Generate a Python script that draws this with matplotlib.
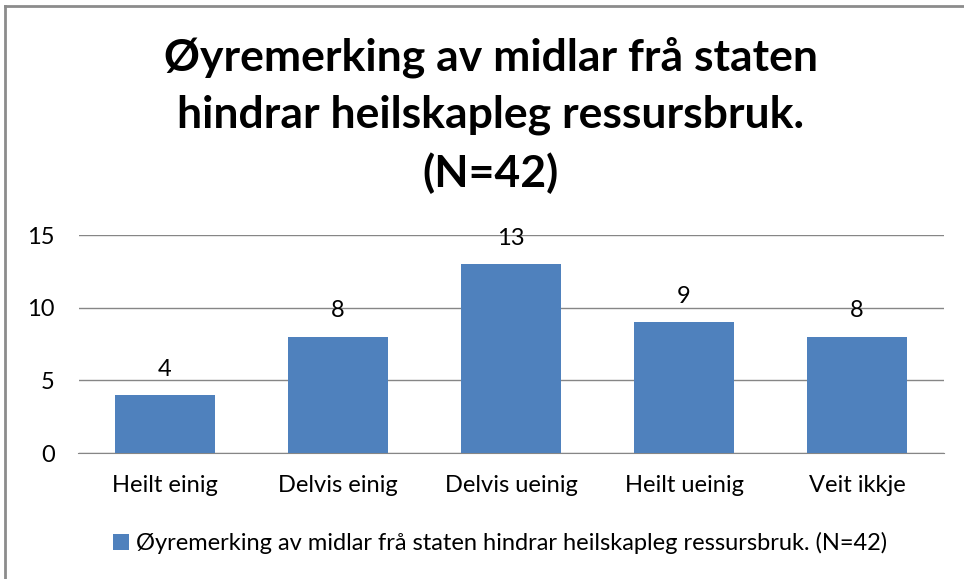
import numpy as np
import matplotlib
matplotlib.use("Agg")
import matplotlib.pyplot as plt
from matplotlib.lines import Line2D

categories = ["Heilt einig", "Delvis einig", "Delvis ueinig", "Heilt ueinig", "Veit ikkje"]
values = [4, 8, 13, 9, 8]
series_name = "Øyremerking av midlar frå staten hindrar heilskapleg ressursbruk. (N=42)"
title = "Øyremerking av midlar frå staten\nhindrar heilskapleg ressursbruk.\n(N=42)"
yticks = [0, 5, 10, 15]

plt.rcParams['font.family'] = ['Lato', 'DejaVu Sans']
bar_color = "#4F81BD"
grid_color = "#868686"

fig = plt.figure(figsize=(9.64, 5.79), dpi=100)
W, H = 964, 579

# chart frame (gray border on top and left)
fig.add_artist(Line2D([5 / W, 5 / W], [0, 1 - 6 / H], color="#8c8c8c", lw=2, transform=fig.transFigure))
fig.add_artist(Line2D([5 / W, 1], [1 - 6 / H, 1 - 6 / H], color="#8c8c8c", lw=2, transform=fig.transFigure))

ax = fig.add_axes([78.5 / W, 1 - 453 / H, 865 / W, 218 / H])
x = np.arange(len(categories))
bars = ax.bar(x, values, width=0.58, color=bar_color, zorder=3, label=series_name)

ax.set_xlim(-0.5, len(categories) - 0.5)
ax.set_ylim(0, 15)
ax.set_yticks(yticks)
ax.set_xticks(x)
ax.set_xticklabels(categories, fontsize=17)
ax.tick_params(axis="both", length=0, labelsize=17, colors="black")
ax.tick_params(axis="x", pad=16)
ax.tick_params(axis="y", pad=17)
ax.yaxis.grid(True, color=grid_color, lw=1)
for s in ["top", "right", "left"]:
    ax.spines[s].set_visible(False)
ax.spines["bottom"].set_color(grid_color)

for xi, v in zip(x, values):
    ax.annotate(str(v), (xi, v), xytext=(0, 11), textcoords="offset points",
                ha="center", va="bottom", fontsize=17)

fig.text(491 / W, 1 - 115 / H, title, ha="center", va="center", fontsize=32,
         fontweight="bold", linespacing=1.5)

fig.legend(handles=[bars], labels=[series_name], loc="center", bbox_to_anchor=(500 / W, 1 - 543 / H),
           frameon=False, fontsize=17, handlelength=0.7, handleheight=0.7, handletextpad=0.3)

fig.savefig("out.png", dpi=100)
